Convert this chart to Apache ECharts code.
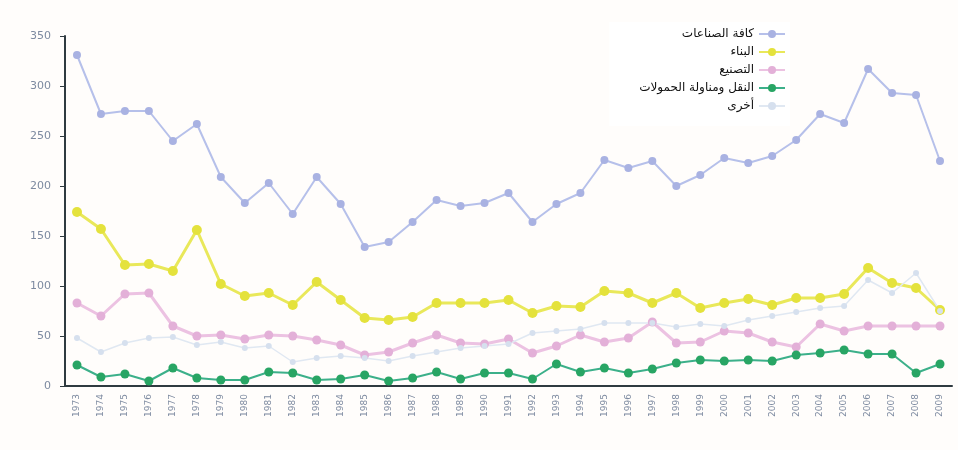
<!DOCTYPE html>
<html>
<head>
<meta charset="utf-8">
<script src="https://cdn.jsdelivr.net/npm/echarts@6/dist/echarts.min.js"></script>
<style>
  html, body { margin: 0; padding: 0; background: #fffdfb; }
  #chart { width: 958px; height: 450px; }
</style>
</head>
<body>
<div id="chart"></div>
<script>
// years on the x axis
const years = [];
for (let y = 1973; y <= 2009; y++) years.push(String(y));

// values
const allIndustries = [331, 272, 275, 275, 245, 262, 209, 183, 203, 172, 209, 182, 139, 144, 164, 186, 180, 183, 193,
  164, 182, 193, 226, 218, 225, 200, 211, 228, 223, 230, 246, 272, 263, 317, 293, 291, 225];
const construction = [174, 157, 121, 122, 115, 156, 102, 90, 93, 81, 104, 86, 68, 66, 69, 83, 83, 83, 86,
  73, 80, 79, 95, 93, 83, 93, 78, 83, 87, 81, 88, 88, 92, 118, 103, 98, 76];
const manufacturing = [83, 70, 92, 93, 60, 50, 51, 47, 51, 50, 46, 41, 31, 34, 43, 51, 43, 42, 47,
  33, 40, 51, 44, 48, 64, 43, 44, 55, 53, 44, 39, 62, 55, 60, 60, 60, 60];
const transport = [21, 9, 12, 5, 18, 8, 6, 6, 14, 13, 6, 7, 11, 5, 8, 14, 7, 13, 13,
  7, 22, 14, 18, 13, 17, 23, 26, 25, 26, 25, 31, 33, 36, 32, 32, 13, 22];
const other = [48, 34, 43, 48, 49, 41, 44, 38, 40, 24, 28, 30, 28, 25, 30, 34, 38, 40, 42,
  53, 55, 57, 63, 63, 63, 59, 62, 60, 66, 70, 74, 78, 80, 106, 93, 113, 75];

const seriesNames = ['كافة الصناعات', 'البناء', 'التصنيع', 'النقل ومناولة الحمولات', 'أخرى'];
const yTicks = [0, 50, 100, 150, 200, 250, 300, 350];

const chart = echarts.init(document.getElementById('chart'));

function line(name, data, lineColor, markColor, width, size) {
  return {
    name: name,
    type: 'line',
    data: data,
    symbol: 'circle',
    symbolSize: size,
    lineStyle: { color: lineColor, width: width },
    itemStyle: { color: markColor },
    emphasis: { disabled: true }
  };
}

chart.setOption({
  backgroundColor: '#fffdfb',
  animation: false,
  textStyle: { fontFamily: 'DejaVu Sans' },
  grid: { left: 65, right: 6, top: 36, bottom: 64 },
  legend: {
    orient: 'vertical',
    right: 168,
    top: 22,
    align: 'right',
    itemWidth: 26,
    itemHeight: 10,
    itemGap: 6,
    padding: [6, 4, 14, 30],
    backgroundColor: '#ffffff',
    textStyle: { color: '#111', fontSize: 12, fontFamily: 'DejaVu Sans' },
    data: seriesNames
  },
  xAxis: {
    type: 'category',
    data: years,
    boundaryGap: true,
    axisLine: { lineStyle: { color: '#2f3a40', width: 2 } },
    axisTick: { inside: true, length: 5, alignWithLabel: true, lineStyle: { color: '#2f3a40', width: 2 } },
    axisLabel: { rotate: 90, fontSize: 9, color: '#7d8aa0', margin: 8, interval: 0 }
  },
  yAxis: {
    type: 'value',
    min: yTicks[0],
    max: yTicks[yTicks.length - 1],
    interval: 50,
    splitLine: { show: false },
    axisLine: { show: true, lineStyle: { color: '#2f3a40', width: 2 } },
    axisTick: { show: true, length: 5, lineStyle: { color: '#2f3a40' } },
    axisLabel: { fontSize: 11, color: '#7d8aa0', margin: 14 }
  },
  series: [
    line(seriesNames[0], allIndustries, '#b6c0ea', '#a9b2e2', 2, 8),
    line(seriesNames[1], construction, '#e9e85a', '#e4e23c', 3, 10),
    line(seriesNames[2], manufacturing, '#ecc2e2', '#e3b0d8', 3, 9),
    line(seriesNames[3], transport, '#3cb08a', '#28a564', 2, 9),
    line(seriesNames[4], other, '#e0e8f2', '#d6e0ee', 1.5, 6)
  ]
});
</script>
</body>
</html>
